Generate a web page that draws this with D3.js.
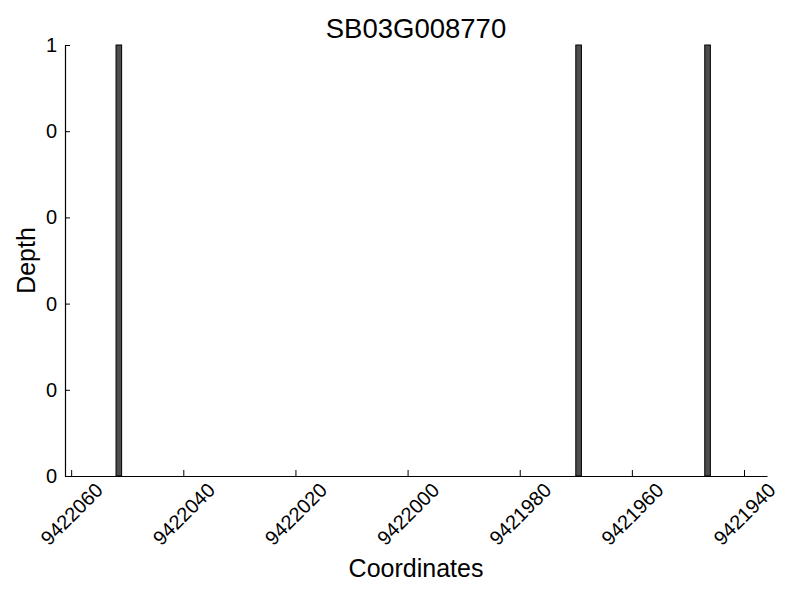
<!DOCTYPE html>
<html>
<head>
<meta charset="utf-8">
<script src="https://cdn.jsdelivr.net/npm/d3@7"></script>
<style>
  body { margin: 0; background: #fff; }
  text { font-family: "Liberation Sans", Arial, sans-serif; fill: #000; }
</style>
</head>
<body>
<div id="chart"></div>
<script>
// data
const positions = [9422051, 9421969, 9421946];
const depths = [1, 1, 1];
const xDomain = [9422061.1, 9421935.9];
const xTicks = [9422060, 9422040, 9422020, 9422000, 9421980, 9421960, 9421940];
const yTicks = [0, 0.2, 0.4, 0.6, 0.8, 1];
const yTickLabels = ['0', '0', '0', '0', '0', '1'];

const width = 800;
const height = 600;
const plotLeft = 65, plotRight = 767, plotTop = 45, plotBottom = 476;

const xScale = d3.scaleLinear()
    .domain(xDomain)
    .range([plotLeft, plotRight]);

const yScale = d3.scaleLinear()
    .domain([0, 1])
    .range([plotBottom, plotTop]);

let svg = d3.select('#chart')
    .append('svg')
        .attr('width', width)
        .attr('height', height);

// bars, each one base wide
svg.append('g')
    .selectAll('rect')
    .data(positions.map((p, i) => [p, depths[i]]))
    .enter()
        .append('rect')
            .attr('x', d => xScale(d[0] + 1))
            .attr('y', d => yScale(d[1]))
            .attr('width', d => xScale(d[0]) - xScale(d[0] + 1))
            .attr('height', d => yScale(0) - yScale(d[1]))
            .attr('fill', '#4d4d4d')
            .attr('stroke', '#000')
            .attr('stroke-width', 1);

// y axis, ticks pointing inward
let yAxis = svg.append('g')
    .attr('transform', `translate(${plotLeft}, 0)`)
    .call(d3.axisLeft(yScale)
        .tickValues(yTicks)
        .tickFormat((d, i) => yTickLabels[i])
        .tickSizeInner(-5)
        .tickSizeOuter(0)
        .tickPadding(8));
yAxis.select('.domain').attr('stroke', '#000').attr('stroke-width', 1.2);
yAxis.selectAll('text').style('font-size', '20px');

// x axis
let xAxis = svg.append('g')
    .attr('transform', `translate(0, ${plotBottom})`)
    .call(d3.axisBottom(xScale)
        .tickValues(xTicks)
        .tickFormat(d3.format('d'))
        .tickSizeInner(-6)
        .tickSizeOuter(0));
xAxis.select('.domain').attr('stroke', '#000').attr('stroke-width', 1.2);
xAxis.selectAll('text')
    .style('font-size', '20px')
    .attr('text-anchor', 'middle')
    .attr('dy', null)
    .attr('y', 0)
    .attr('transform', 'translate(0, 38) rotate(-45)')
    .attr('dominant-baseline', 'central');

// title
svg.append('text')
    .attr('x', (plotLeft + plotRight) / 2)
    .attr('y', 38)
    .attr('text-anchor', 'middle')
    .style('font-size', '27.5px')
    .text('SB03G008770');

// x axis title
svg.append('text')
    .attr('x', (plotLeft + plotRight) / 2)
    .attr('y', 577)
    .attr('text-anchor', 'middle')
    .style('font-size', '25px')
    .text('Coordinates');

// y axis title
svg.append('text')
    .attr('x', -(plotTop + plotBottom) / 2)
    .attr('y', 35)
    .attr('transform', 'rotate(-90)')
    .attr('text-anchor', 'middle')
    .style('font-size', '25px')
    .text('Depth');
</script>
</body>
</html>
